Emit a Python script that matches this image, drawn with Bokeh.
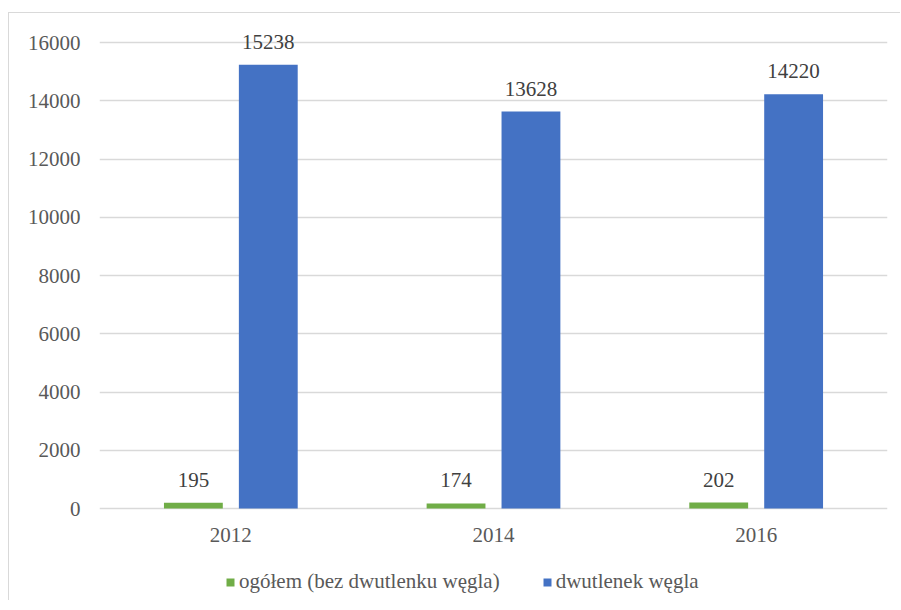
from bokeh.plotting import figure
from bokeh.models import ColumnDataSource, FixedTicker, Legend, LegendItem, LabelSet
from bokeh.transform import dodge
from bokeh.embed import file_html
from bokeh.resources import INLINE

years = ["2012", "2014", "2016"]
ogolem = [195, 174, 202]
co2 = [15238, 13628, 14220]
y_ticks = [0, 2000, 4000, 6000, 8000, 10000, 12000, 14000, 16000]
series_names = ["ogółem (bez dwutlenku węgla)", "dwutlenek węgla"]

FONT = "Liberation Serif"
TXT = "#595959"
GREEN = "#70ad47"
BLUE = "#4472c4"
FS = "21px"

src = ColumnDataSource(dict(year=years, ogolem=ogolem, co2=co2,
                            ogolem_lbl=[str(v) for v in ogolem],
                            co2_lbl=[str(v) for v in co2]))

p = figure(x_range=years, y_range=(-3193, 16790), width=892, height=588,
           output_backend="svg", toolbar_location=None,
           min_border_left=90, min_border_right=14, min_border_top=6, min_border_bottom=0)
p.styles = {"border-left": "1px solid #d9d9d9", "border-top": "1px solid #d9d9d9",
            "margin-left": "8px", "margin-top": "12px"}

off = 0.1426
w = 0.224
r1 = p.vbar(x=dodge("year", -off, range=p.x_range), top="ogolem", width=w, source=src,
            fill_color=GREEN, line_color=None)
r2 = p.vbar(x=dodge("year", off, range=p.x_range), top="co2", width=w, source=src,
            fill_color=BLUE, line_color=None)

for col, lbl, o in (("ogolem", "ogolem_lbl", -off), ("co2", "co2_lbl", off)):
    labels = LabelSet(x=dodge("year", o, range=p.x_range), y=col, text=lbl, source=src,
                      text_align="center", text_baseline="middle", y_offset=23,
                      text_font=FONT, text_font_size=FS, text_color="#404040")
    p.add_layout(labels)

p.outline_line_color = None
p.background_fill_color = "white"
p.border_fill_color = "white"
p.xgrid.grid_line_color = None
p.ygrid.grid_line_color = "#d9d9d9"
p.ygrid.grid_line_width = 1.3
p.yaxis.ticker = FixedTicker(ticks=y_ticks)
p.xaxis.fixed_location = 0
for ax in (p.xaxis, p.yaxis):
    ax.axis_line_color = None
    ax.major_tick_line_color = None
    ax.minor_tick_line_color = None
    ax.major_label_text_font = FONT
    ax.major_label_text_font_size = FS
    ax.major_label_text_color = TXT
p.xaxis.major_label_standoff = 13
p.yaxis.major_label_standoff = 13
p.x_range.range_padding = 0

legend = Legend(items=[LegendItem(label=series_names[0], renderers=[r1]),
                       LegendItem(label=series_names[1], renderers=[r2])],
                orientation="horizontal", location=(126, 7),
                glyph_width=10, glyph_height=10, label_standoff=4, spacing=42,
                padding=0, margin=0, border_line_color=None, background_fill_alpha=0,
                label_text_font=FONT, label_text_font_size=FS, label_text_color=TXT,
                label_height=12)
p.add_layout(legend, "center")

open("out.html", "w").write(file_html(p, INLINE))
